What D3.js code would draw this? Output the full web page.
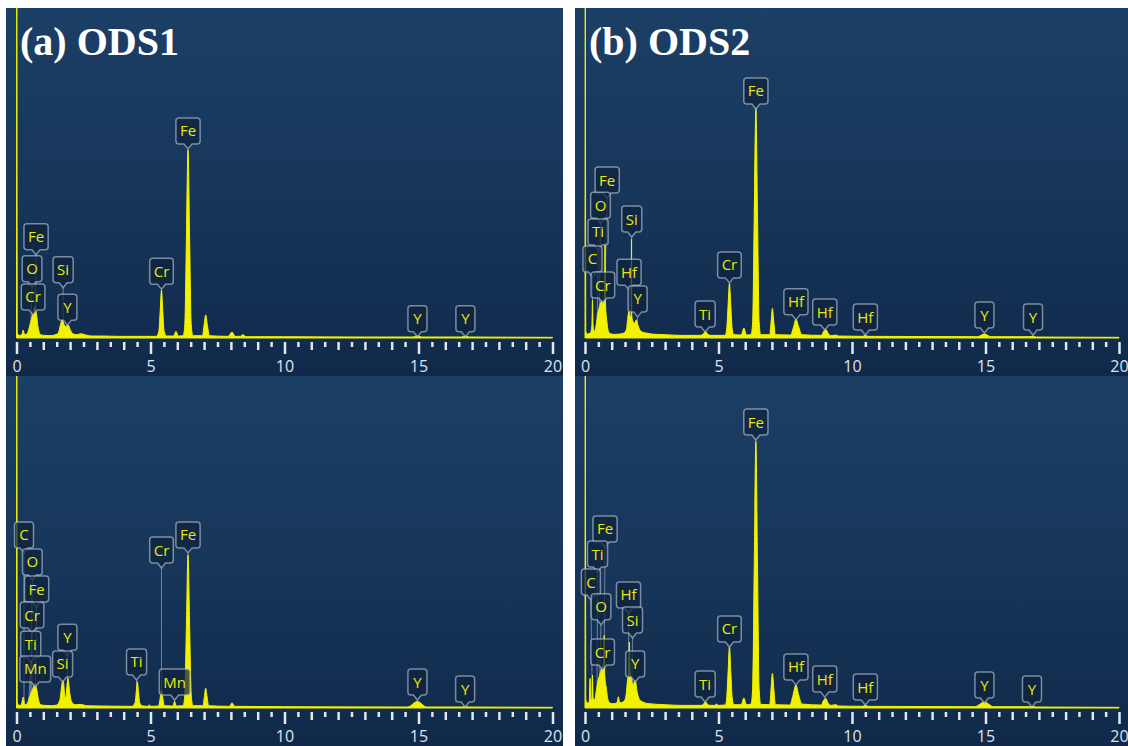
<!DOCTYPE html>
<html>
<head>
<meta charset="utf-8">
<script src="https://cdn.jsdelivr.net/npm/d3@7"></script>
<style>
  body { margin: 0; background: #fff; }
  svg { display: block; }
</style>
</head>
<body>
<svg id="chart" width="1128" height="746"></svg>
<script>
// spectra: [energy keV, counts (100 = top of panel)]
var specA1 = [[0,0.3],[0.01,110],[0.03,1.5],[0.1,0.8],[0.2,1.0],[0.25,2.4],[0.3,1.0],[0.4,1.3],[0.47,3],[0.55,5.5],[0.62,7.5],[0.69,9.5],[0.75,7],[0.81,3],[0.9,1.0],[1.05,0.8],[1.25,0.7],[1.45,1.0],[1.56,1.5],[1.64,4],[1.7,5.5],[1.77,4.2],[1.84,3.5],[1.92,4],[2.0,2.6],[2.1,1.3],[2.25,1.0],[2.4,1.3],[2.55,1.0],[2.8,0.6],[3.2,0.6],[3.8,0.5],[4.6,0.5],[5.22,0.5],[5.31,2],[5.36,8],[5.41,14.5],[5.46,8],[5.51,2],[5.6,0.6],[5.86,0.6],[5.95,2],[6.04,0.6],[6.22,0.7],[6.28,4],[6.34,30],[6.40,57],[6.46,30],[6.52,4],[6.58,0.7],[6.94,0.7],[7.0,4],[7.06,7],[7.12,4],[7.2,0.7],[7.9,0.5],[8.04,1.8],[8.16,0.5],[8.35,0.5],[8.45,1.0],[8.56,0.4],[10,0.4],[13,0.3],[14.8,0.3],[14.96,0.7],[15.12,0.3],[16.6,0.3],[16.74,0.5],[16.9,0.3],[20,0.2]];
var specA2 = [[0,0.3],[0.01,110],[0.03,1.5],[0.1,0.8],[0.18,1.0],[0.25,3.3],[0.31,1.0],[0.4,1.3],[0.47,3],[0.54,4.5],[0.62,6],[0.7,7.5],[0.76,5.5],[0.82,2.5],[0.9,1.0],[1.05,0.8],[1.3,0.7],[1.5,0.9],[1.62,2.5],[1.69,7],[1.74,8.5],[1.8,4],[1.84,3],[1.88,6.5],[1.92,9],[1.98,5],[2.06,1.8],[2.2,1.0],[2.4,1.1],[2.6,0.7],[3.2,0.6],[4.3,0.5],[4.42,1.5],[4.47,5],[4.51,8],[4.55,5],[4.6,1.5],[4.72,0.6],[4.9,0.5],[4.95,1],[5.0,0.5],[5.3,0.6],[5.36,3],[5.41,5.5],[5.46,3],[5.52,0.7],[5.84,0.6],[5.9,2],[5.96,0.6],[6.22,0.7],[6.28,4],[6.34,25],[6.40,46.4],[6.46,25],[6.52,4],[6.58,0.7],[6.96,0.7],[7.01,3.5],[7.06,6],[7.11,3.5],[7.17,0.7],[7.95,0.5],[8.04,1.6],[8.14,0.5],[10,0.4],[14.6,0.3],[14.96,2],[15.3,0.3],[16.6,0.3],[16.74,0.4],[16.9,0.3],[20,0.2]];
var specB1 = [[0,0.3],[0.01,110],[0.03,2],[0.1,1.2],[0.2,1.5],[0.26,4],[0.28,11.5],[0.3,4],[0.35,2],[0.42,4],[0.47,7],[0.53,9],[0.6,11],[0.67,11.5],[0.73,12],[0.75,28.8],[0.77,10],[0.82,5],[0.88,2],[0.96,1.3],[1.1,1.1],[1.3,1.2],[1.45,1.5],[1.55,2.5],[1.6,6],[1.645,8],[1.7,6.5],[1.73,7],[1.74,30],[1.75,7],[1.8,5],[1.87,4.5],[1.92,5.5],[1.98,4],[2.05,2.5],[2.15,1.8],[2.3,1.5],[2.5,1.2],[3,1.0],[3.6,0.8],[4.3,0.8],[4.43,1.2],[4.51,2],[4.59,1.2],[4.7,0.8],[5.25,0.8],[5.31,3],[5.36,10],[5.41,16.5],[5.46,10],[5.51,3],[5.57,1],[5.85,0.9],[5.95,3],[6.05,0.9],[6.22,1],[6.28,5],[6.34,38],[6.40,69.6],[6.46,38],[6.52,5],[6.58,1],[6.92,1],[6.97,5],[7.02,9],[7.07,5],[7.13,1],[7.7,0.9],[7.8,3],[7.9,5.7],[8.0,3.5],[8.12,1],[8.85,0.8],[8.95,2.2],[9.02,2.6],[9.1,1.5],[9.2,0.7],[9.4,0.9],[9.5,0.6],[10.4,0.5],[10.5,0.8],[10.6,0.5],[14.7,0.4],[14.96,1.2],[15.2,0.4],[16.6,0.4],[16.74,0.5],[16.9,0.3],[20,0.2]];
var specB2 = [[0,0.3],[0.01,110],[0.03,2.5],[0.1,1.5],[0.16,2],[0.19,9],[0.22,2.5],[0.26,3],[0.28,10],[0.3,3],[0.36,2.5],[0.42,5],[0.48,8],[0.55,10],[0.62,12],[0.68,13],[0.7,13.5],[0.72,22],[0.74,10],[0.8,6],[0.86,2.5],[0.94,1.5],[1.05,1.3],[1.2,1.6],[1.25,3.4],[1.3,1.6],[1.42,1.8],[1.52,3],[1.6,9],[1.64,12],[1.66,20],[1.68,11],[1.74,9],[1.8,7],[1.88,8.5],[1.95,5],[2.05,2.5],[2.2,1.7],[2.4,1.3],[3,1.0],[3.6,0.8],[4.35,0.8],[4.44,1.2],[4.51,1.9],[4.58,1.2],[4.68,0.8],[4.85,0.8],[4.93,1.2],[5.0,0.8],[5.26,0.9],[5.31,3.5],[5.36,11],[5.41,18.6],[5.46,11],[5.51,3.5],[5.57,1],[5.85,1],[5.95,3],[6.05,1],[6.22,1.2],[6.28,6],[6.34,44],[6.40,80.7],[6.46,44],[6.52,6],[6.58,1.1],[6.92,1],[6.97,6],[7.02,10.5],[7.07,6],[7.13,1],[7.68,0.9],[7.78,3.5],[7.9,7],[8.0,4],[8.12,1.2],[8.85,0.9],[8.94,2.4],[9.02,2.9],[9.1,1.6],[9.2,0.8],[9.4,1.0],[9.5,0.6],[10.4,0.5],[10.5,0.8],[10.6,0.5],[14.6,0.4],[14.96,1.8],[15.3,0.4],[16.6,0.4],[16.74,0.5],[16.9,0.3],[20,0.2]];

// peak labels: [element, line energy, label position keV, pointer tip height]
var labelsA1 = [["Fe",0.70,0.73,25.2],["O",0.52,0.58,15.5],["Cr",0.57,0.62,7],["Si",1.74,1.74,15.2],["Y",1.92,1.9,3.9],["Cr",5.41,5.41,14.8],["Fe",6.40,6.40,57.3],["Y",14.96,14.96,0.4],["Y",16.74,16.75,0.4]];
var labelsA2 = [["C",0.28,0.28,47],["O",0.52,0.59,38.8],["Fe",0.70,0.75,30.6],["Cr",0.57,0.58,22.7],["Ti",0.45,0.53,13.9],["Mn",0.64,0.7,6.4],["Y",1.92,1.9,16],["Si",1.74,1.72,7.9],["Ti",4.51,4.48,8.5],["Cr",5.41,5.41,42.4],["Mn",5.90,5.9,2.4],["Fe",6.40,6.40,47],["Y",14.96,14.96,2.4],["Y",16.74,16.74,0.3]];
var labelsB1 = [["Fe",0.70,0.83,42.4],["O",0.52,0.58,34.8],["Ti",0.45,0.49,26.7],["C",0.28,0.28,18.5],["Cr",0.57,0.67,10.6],["Si",1.74,1.75,30.6],["Hf",1.645,1.65,14.5],["Y",1.92,1.97,6.4],["Ti",4.51,4.5,1.8],["Cr",5.41,5.41,16.7],["Fe",6.40,6.40,69.4],["Hf",7.90,7.9,5.5],["Hf",9.02,8.98,2.4],["Hf",10.52,10.5,0.9],["Y",14.96,14.96,1.5],["Y",16.74,16.78,0.9]];
var labelsB2 = [["Fe",0.70,0.75,48.8],["Ti",0.45,0.47,41.2],["C",0.28,0.22,32.7],["O",0.52,0.6,25.2],["Hf",1.645,1.63,28.8],["Si",1.74,1.78,21.2],["Cr",0.57,0.66,11.5],["Y",1.92,1.88,7.9],["Ti",4.51,4.5,1.8],["Cr",5.41,5.41,18.5],["Fe",6.40,6.40,81.2],["Hf",7.90,7.9,7],["Hf",9.02,8.98,3.3],["Hf",10.52,10.5,0.9],["Y",14.96,14.96,1.5],["Y",16.74,16.74,0.3]];

var tickLabels = [0, 5, 10, 15, 20];
var panelTitles = ["(a) ODS1", "(b) ODS2"];

var svg = d3.select('#chart');
var defs = svg.append('defs');
var grad = defs.append('linearGradient').attr('id', 'bg')
    .attr('x1', 0).attr('y1', 0).attr('x2', 0).attr('y2', 1);
grad.append('stop').attr('offset', '0%').attr('stop-color', '#1c3f65');
grad.append('stop').attr('offset', '55%').attr('stop-color', '#163559');
grad.append('stop').attr('offset', '100%').attr('stop-color', '#10294a');

var panels = [
  {spec: specA1, labels: labelsA1, left: 6,   right: 563,  top: 8,   bottom: 376, x0: 16.5, x1: 552.5, base: 338, title: panelTitles[0]},
  {spec: specA2, labels: labelsA2, left: 6,   right: 563,  top: 376, bottom: 746, x0: 16.5, x1: 552.5, base: 708},
  {spec: specB1, labels: labelsB1, left: 575, right: 1128, top: 8,   bottom: 376, x0: 585,  x1: 1119,  base: 338, title: panelTitles[1]},
  {spec: specB2, labels: labelsB2, left: 575, right: 1128, top: 376, bottom: 746, x0: 585,  x1: 1119,  base: 708}
];

var yellow = '#f2f200';

panels.forEach(function(p, i) {
  var g = svg.append('g');
  g.append('rect')
    .attr('x', p.left).attr('y', p.top)
    .attr('width', p.right - p.left).attr('height', p.bottom - p.top)
    .attr('fill', 'url(#bg)');

  defs.append('clipPath').attr('id', 'clip' + i)
    .append('rect')
    .attr('x', p.left).attr('y', p.top)
    .attr('width', p.right - p.left).attr('height', p.base - p.top + 1);

  var x = d3.scaleLinear().domain([0, 20]).range([p.x0, p.x1]);
  var y = d3.scaleLinear().domain([0, 100]).range([p.base, p.base - 330]);

  var plot = g.append('g').attr('clip-path', 'url(#clip' + i + ')');

  // connector lines from each label down to its line energy
  plot.selectAll('line.conn')
    .data(p.labels)
    .enter()
    .append('line')
    .attr('class', 'conn')
    .attr('x1', function(d) { return x(d[2]); })
    .attr('y1', function(d) { return y(d[3]); })
    .attr('x2', function(d) { return x(d[1]); })
    .attr('y2', y(0))
    .attr('stroke', 'rgba(185,198,215,0.55)')
    .attr('stroke-width', 1);

  var area = d3.area()
    .x(function(d) { return x(d[0]); })
    .y0(y(0))
    .y1(function(d) { return y(d[1]); })
    .curve(d3.curveMonotoneX);

  plot.append('path')
    .datum(p.spec)
    .attr('d', area)
    .attr('fill', yellow)
    .attr('stroke', yellow)
    .attr('stroke-width', 1);

  // energy axis
  var axis = d3.axisBottom(x)
    .tickValues(d3.range(0, 20.01, 0.5))
    .tickFormat(function(d) { return tickLabels.indexOf(d) >= 0 ? d : ''; })
    .tickSizeOuter(0);
  var ax = g.append('g')
    .attr('transform', 'translate(0,' + p.base + ')')
    .call(axis);
  ax.select('.domain').remove();
  ax.selectAll('.tick line')
    .attr('y1', 4)
    .attr('y2', function(d) { return d % 5 === 0 ? 16 : (d % 1 === 0 ? 12 : 9); })
    .attr('stroke', '#e4e8ee')
    .attr('stroke-width', 2.5);
  ax.selectAll('.tick text')
    .attr('y', 34).attr('dy', null)
    .attr('fill', '#dfe4ea')
    .style('font-family', '"Open Sans", "Noto Sans", sans-serif')
    .style('font-size', '16px');

  // peak labels
  var lab = g.selectAll('g.lab')
    .data(p.labels)
    .enter()
    .append('g')
    .attr('class', 'lab');

  lab.each(function(d) {
    var el = d3.select(this);
    var cx = x(d[2]);
    var tip = y(d[3]);
    var b = tip - 5, t = b - 26;
    var txt = el.append('text')
      .attr('x', cx).attr('y', (t + b) / 2 + 5.5)
      .attr('text-anchor', 'middle')
      .attr('fill', '#e9e90c')
      .style('font-family', '"Open Sans", "Noto Sans", sans-serif')
      .style('font-size', '15px')
      .text(d[0]);
    var w = Math.max(19, txt.node().getComputedTextLength() + 8);
    var l = cx - w / 2, r = cx + w / 2, rr = 3;
    var path = 'M' + (l + rr) + ',' + t + 'H' + (r - rr) + 'Q' + r + ',' + t + ' ' + r + ',' + (t + rr) +
      'V' + (b - rr) + 'Q' + r + ',' + b + ' ' + (r - rr) + ',' + b +
      'H' + (cx + 4) + 'L' + cx + ',' + tip + 'L' + (cx - 4) + ',' + b +
      'H' + (l + rr) + 'Q' + l + ',' + b + ' ' + l + ',' + (b - rr) +
      'V' + (t + rr) + 'Q' + l + ',' + t + ' ' + (l + rr) + ',' + t + 'Z';
    el.insert('path', 'text')
      .attr('d', path)
      .attr('fill', 'rgba(14,34,60,0.72)')
      .attr('stroke', 'rgba(178,192,210,0.65)')
      .attr('stroke-width', 1.5);
  });

  if (p.title) {
    g.append('text')
      .attr('x', p.left + 14).attr('y', 55)
      .attr('fill', '#ffffff')
      .style('font-family', '"Liberation Serif", "Times New Roman", serif')
      .style('font-weight', 'bold')
      .style('font-size', '40px')
      .text(p.title);
  }
});
</script>
</body>
</html>
